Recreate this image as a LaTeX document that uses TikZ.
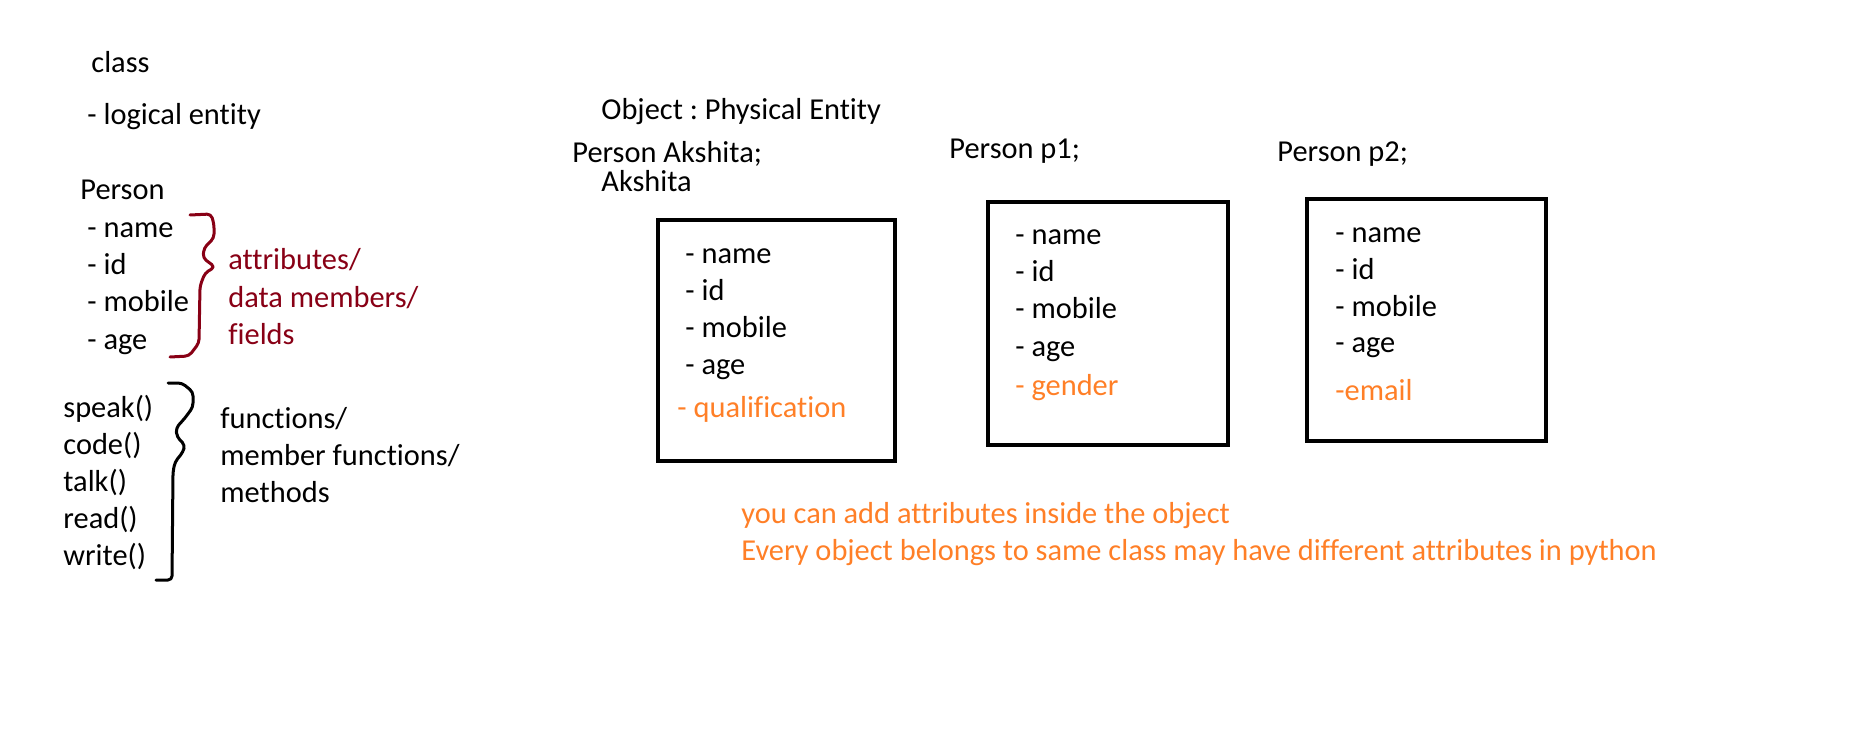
\documentclass[tikz,border=0pt]{standalone}
\usepackage{fontspec}
\setmainfont{Carlito}[RawFeature={-liga;-clig;-calt;-dlig;-rlig}]
\definecolor{paintorange}{HTML}{FF7F27}
\definecolor{paintred}{HTML}{880015}
\tikzset{
  txt/.style={anchor=base west, inner sep=0pt, font=\fontsize{15.2}{18}\selectfont\frenchspacing},
  added/.style={txt, text=paintorange},
  member/.style={txt, text=paintred},
  objbox/.style={draw, line width=2pt},
  bracket/.style={line width=1.5pt, line join=round, line cap=round, rounded corners=2pt}
}

\begin{document}
\begin{tikzpicture}[x=0.5pt,y=-0.5pt]
		\useasboundingbox (0,0) rectangle (1852,743);
		% class
		\node[txt] (cls) at (91,73) {class};
		\node[txt] (logical) at (87,125) {- logical entity};
		\node[txt] (person) at (80,200) {Person};
		\foreach\f [count=\i] in {name,id,mobile,age}
		\node[txt] (field\i) at (87,{201+37*\i}) {- \f};
		% attributes brace
		\draw[bracket, paintred] (190,215) -- (211,214) -- (214,224) -- (214,238) -- (204,248)
			-- (203,258) -- (215,267) -- (205,273) -- (200,286) -- (199,343) -- (189,356) -- (170,357);
		\foreach\t [count=\i] in {attributes/,data members/,fields}
		\node[member] (attr\i) at (228,{233+37*\i}) {\t};
		% methods
		\foreach\m [count=\i] in {speak(),code(),talk(),read(),write()}
		\node[txt] (method\i) at (63,{380+37*\i}) {\m};
		% functions brace
		\draw[bracket] (168,383) -- (182,383) -- (193,392) -- (193,407) -- (185,418) -- (176,428)
			-- (177,437) -- (185,445) -- (183,452) -- (175,462) -- (173,472) -- (172,580) -- (156,580);
		\foreach\t [count=\i] in {functions/,member functions/,methods}
		\node[txt] (func\i) at (220,{391+37*\i}) {\t};
		% objects
		\node[txt] (object) at (601,120) {Object : Physical Entity};
		\node[txt] (akshita) at (572,163) {Person Akshita;};
		\node[txt] (akname) at (601,192) {Akshita};
		\node[txt] (p1) at (949,159) {Person p1;};
		\node[txt] (p2) at (1277,162) {Person p2;};
		% boxes
		\draw[objbox] (658,220) rectangle (895,461);
		\draw[objbox] (988,202) rectangle (1228,445);
		\draw[objbox] (1307,199) rectangle (1546,441);
		\foreach\f [count=\i] in {name,id,mobile,age}{
			\node[txt] (ak\i) at (685,{227+36.8*\i}) {- \f};
			\node[txt] (pa\i) at (1015,{208+37*\i}) {- \f};
			\node[txt] (pb\i) at (1335,{206+36.7*\i}) {- \f};
		}
		\node[added] (qual) at (677,417) {- qualification};
		\node[added] (gender) at (1015,395) {- gender};
		\node[added] (email) at (1335,400) {-email};
		% note
		\node[added] (note1) at (741,523) {you can add attributes inside the object};
		\node[added] (note2) at (741,560) {Every object belongs to same class may have different attributes in python};
	\end{tikzpicture}
\end{document}
